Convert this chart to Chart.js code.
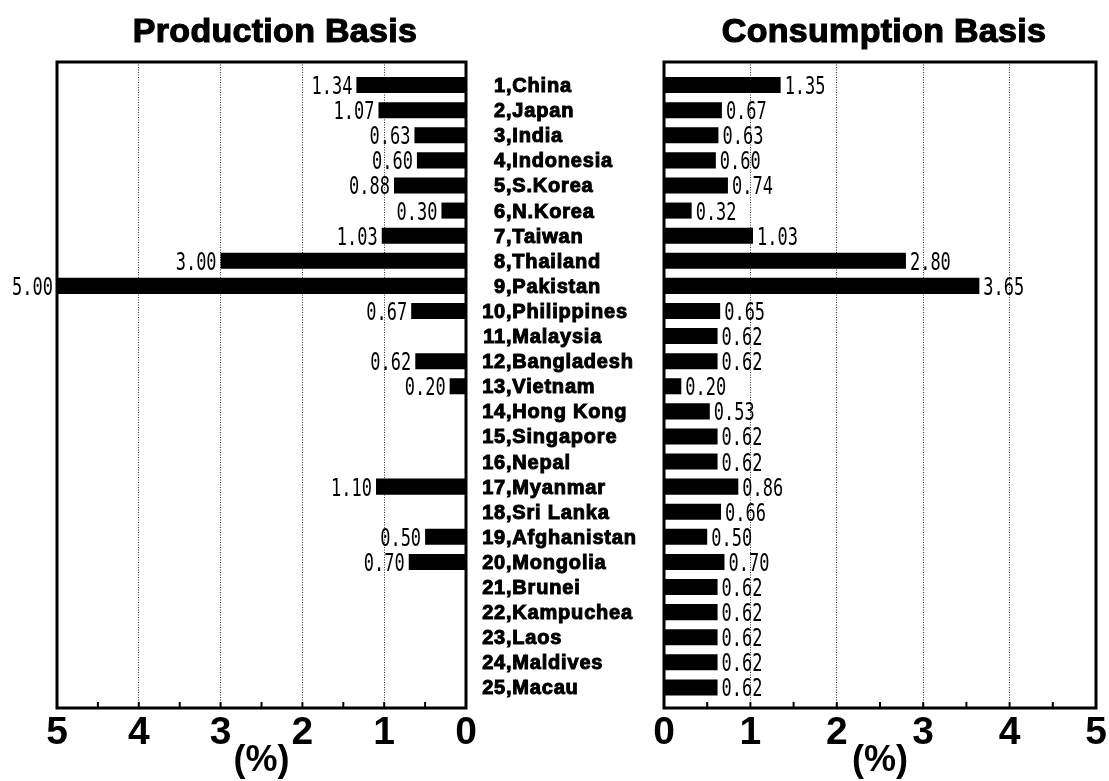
<!DOCTYPE html>
<html>
<head>
<meta charset="utf-8">
<title>Production Basis / Consumption Basis</title>
<script src="https://cdn.jsdelivr.net/npm/chart.js@4.4.1/dist/chart.umd.min.js"></script>
<style>
  html, body { margin: 0; padding: 0; background: #fff; }
  #wrap { position: relative; width: 1109px; height: 781px; overflow: hidden; }
  #wrap canvas { position: absolute; top: 0; }
  #prod { left: 0; }
  #cons { left: 480px; }
</style>
</head>
<body>
<div id="wrap">
  <canvas id="prod" width="500" height="781"></canvas>
  <canvas id="cons" width="645" height="781"></canvas>
</div>
<script>
(function(){
    var countries = ["China", "Japan", "India", "Indonesia", "S.Korea", "N.Korea", "Taiwan", "Thailand",
        "Pakistan", "Philippines", "Malaysia", "Bangladesh", "Vietnam", "Hong Kong", "Singapore", "Nepal",
        "Myanmar", "Sri Lanka", "Afghanistan", "Mongolia", "Brunei", "Kampuchea", "Laos", "Maldives", "Macau"];
    // null = no bar on the production side
    var production = [1.34, 1.07, 0.63, 0.60, 0.88, 0.30, 1.03, 3.00, 5.00, 0.67, null, 0.62, 0.20,
        null, null, null, 1.10, null, 0.50, 0.70, null, null, null, null, null];
    var consumption = [1.35, 0.67, 0.63, 0.60, 0.74, 0.32, 1.03, 2.80, 3.65, 0.65, 0.62, 0.62, 0.20,
        0.53, 0.62, 0.62, 0.86, 0.66, 0.50, 0.70, 0.62, 0.62, 0.62, 0.62, 0.62];
    var majorTicks = [0, 1, 2, 3, 4, 5];
    var minorTicks = [0.5, 1.5, 2.5, 3.5, 4.5];
    var titles = ["Production Basis", "Consumption Basis"];
    var unitLabel = "(%)";

    Chart.defaults.color = "#000";
    Chart.defaults.font.family = "'Liberation Sans', Arial, sans-serif";

    function toPoints(values){
        return values.map(function(v, i){ return {x: v, y: i + 1}; })
            .filter(function(p){ return p.x !== null; });
    }

    // frame around the plot + small tick marks on the bottom axis
    var framePlugin = {
        id: "frame",
        afterDraw: function(chart){
            var ctx = chart.ctx, a = chart.chartArea, xs = chart.scales.x;
            ctx.save();
            ctx.strokeStyle = "#000";
            ctx.lineWidth = 2;
            majorTicks.concat(minorTicks).forEach(function(v){
                var px = xs.getPixelForValue(v);
                ctx.beginPath();
                ctx.moveTo(px, a.bottom);
                ctx.lineTo(px, a.bottom - 6);
                ctx.stroke();
            });
            ctx.lineWidth = 3;
            ctx.strokeRect(a.left, a.top, a.right - a.left, a.bottom - a.top);
            ctx.restore();
        }
    };

    // numbers at the end of each bar, narrow monospace look
    var valueLabelPlugin = {
        id: "valueLabels",
        afterDatasetsDraw: function(chart, args, opts){
            var ctx = chart.ctx;
            var meta = chart.getDatasetMeta(0);
            var data = chart.data.datasets[0].data;
            ctx.save();
            ctx.font = "25px 'DejaVu Sans Mono', monospace";
            ctx.fillStyle = "#000";
            ctx.textBaseline = "alphabetic";
            meta.data.forEach(function(bar, i){
                var left = opts.side === "left";
                ctx.save();
                ctx.translate(bar.x + (left ? -4 : 4), bar.y + 9);
                ctx.scale(0.68, 1);
                ctx.textAlign = left ? "right" : "left";
                ctx.fillText(data[i].x.toFixed(2), 0, 0);
                ctx.restore();
            });
            ctx.restore();
        }
    };

    var titlePlugin = {
        id: "panelTitle",
        afterDraw: function(chart, args, opts){
            var ctx = chart.ctx;
            ctx.save();
            ctx.font = "bold 34px 'Liberation Sans', Arial, sans-serif";
            ctx.letterSpacing = "0.3px";
            ctx.textAlign = "center";
            ctx.textBaseline = "alphabetic";
            ctx.fillStyle = "#000";
            ctx.strokeStyle = "#000";
            ctx.lineWidth = 1.2;
            ctx.fillText(opts.text, opts.x, 42);
            ctx.strokeText(opts.text, opts.x, 42);
            ctx.restore();
        }
    };

    // country names between the two panels
    var countryPlugin = {
        id: "countries",
        afterDraw: function(chart, args, opts){
            var ctx = chart.ctx, ys = chart.scales.y;
            ctx.save();
            ctx.font = "bold 20px 'Liberation Sans', Arial, sans-serif";
            ctx.letterSpacing = "0.8px";
            ctx.fillStyle = "#000";
            ctx.strokeStyle = "#000";
            ctx.lineWidth = 1;
            ctx.textBaseline = "alphabetic";
            countries.forEach(function(name, i){
                var y = ys.getPixelForValue(i + 1) + 7;
                ctx.textAlign = "right";
                ctx.fillText(String(i + 1), opts.x, y);
                ctx.strokeText(String(i + 1), opts.x, y);
                ctx.textAlign = "left";
                ctx.fillText("," + name, opts.x, y);
                ctx.strokeText("," + name, opts.x, y);
            });
            ctx.restore();
        }
    };

    function makeOptions(reverse, pad, side, titleX, extra){
        var plugins = {
            legend: {display: false},
            tooltip: {enabled: false},
            valueLabels: {side: side},
            panelTitle: {text: titles[reverse ? 0 : 1], x: titleX}
        };
        if(extra){ plugins.countries = extra; }
        return {
            indexAxis: "y",
            responsive: false,
            animation: false,
            layout: {padding: pad},
            datasets: {bar: {categoryPercentage: 1, barPercentage: 0.78}},
            scales: {
                x: {
                    type: "linear",
                    reverse: reverse,
                    min: 0,
                    max: 5,
                    grid: {
                        drawTicks: false,
                        color: "#333",
                        lineWidth: 1
                    },
                    border: {display: false, dash: [1, 1.5]},
                    ticks: {
                        stepSize: 1,
                        padding: 6,
                        maxRotation: 0,
                        autoSkip: false,
                        font: {size: 39, weight: "bold", lineHeight: 1}
                    },
                    title: {
                        display: true,
                        text: unitLabel,
                        font: {size: 36, weight: "bold", lineHeight: 1},
                        padding: {top: -16, bottom: 2}
                    }
                },
                y: {
                    type: "linear",
                    reverse: true,
                    min: 0.08,
                    max: 25.82,
                    offset: false,
                    display: false,
                    grid: {display: false, offset: false}
                }
            },
            plugins: plugins
        };
    }

    new Chart(document.getElementById("prod"), {
        type: "bar",
        data: {
            datasets: [{
                label: titles[0],
                data: toPoints(production),
                backgroundColor: "#000",
                borderWidth: 0
            }]
        },
        options: makeOptions(true, {left: 57, right: 34, top: 62, bottom: 0}, "left", 275),
        plugins: [framePlugin, valueLabelPlugin, titlePlugin]
    });

    new Chart(document.getElementById("cons"), {
        type: "bar",
        data: {
            datasets: [{
                label: titles[1],
                data: toPoints(consumption),
                backgroundColor: "#000",
                borderWidth: 0
            }]
        },
        options: makeOptions(false, {left: 184, right: 29, top: 62, bottom: 0}, "right", 404, {x: 26}),
        plugins: [framePlugin, valueLabelPlugin, titlePlugin, countryPlugin]
    });
})();
</script>
</body>
</html>
